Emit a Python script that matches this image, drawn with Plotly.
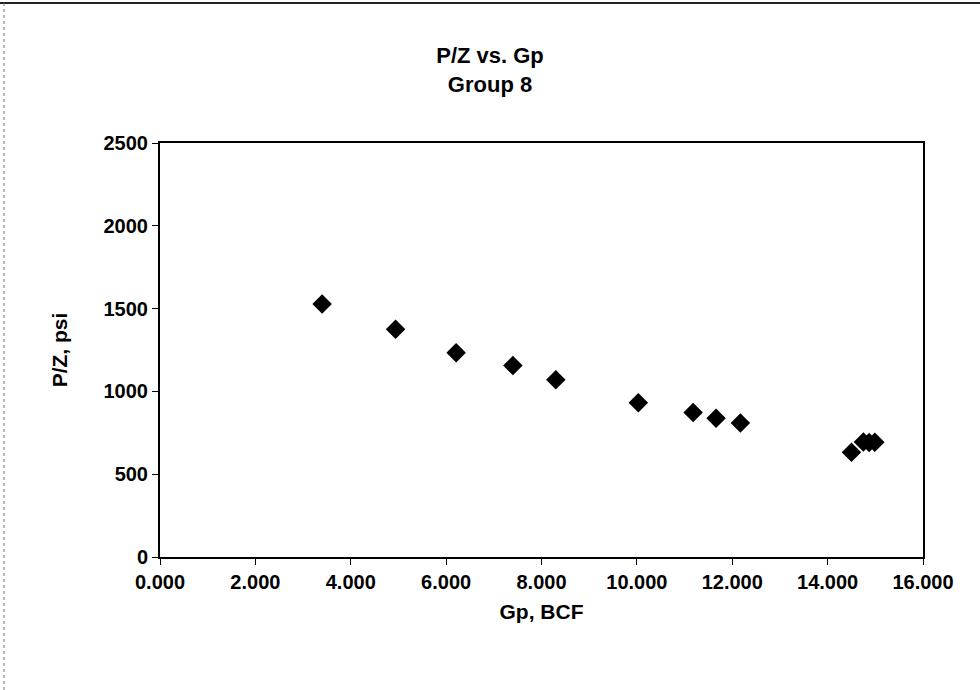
import plotly.graph_objects as go

gp_bcf = [3.40, 4.94, 6.21, 7.40, 8.30, 10.03, 11.18, 11.66, 12.17, 14.50, 14.75, 14.87, 14.99]
pz_psi = [1528, 1375, 1234, 1156, 1071, 932, 872, 838, 809, 632, 695, 692, 693]

x_ticks = [0, 2, 4, 6, 8, 10, 12, 14, 16]
y_ticks = [0, 500, 1000, 1500, 2000, 2500]

FONT = "Liberation Sans"

fig = go.Figure()
fig.add_trace(go.Scatter(
    x=gp_bcf, y=pz_psi, mode="markers",
    marker=dict(symbol="diamond", size=15, color="black", line=dict(width=0)),
    showlegend=False,
))

# plot area: x 160..923 px, y 143..557 px
def px(x):
    return (x - 160) / 763.0

def py(y):
    return (557 - y) / 414.0

fig.update_layout(
    width=980, height=690,
    margin=dict(l=160, r=57, t=143, b=133),
    paper_bgcolor="white", plot_bgcolor="white",
    title=dict(text="<b>P/Z vs. Gp<br>Group 8</b>", x=0.5, xanchor="center",
               y=1 - 63 / 690, yanchor="middle",
               font=dict(family=FONT, size=22, color="black")),
    font=dict(family=FONT, color="black"),
    xaxis=dict(
        range=[0, 16], tickvals=x_ticks, tickformat=".3f",
        ticks="outside", ticklen=6, tickwidth=1, tickcolor="black",
        showline=True, linecolor="black", linewidth=2, mirror=True,
        showgrid=False, zeroline=False,
        tickfont=dict(family=FONT, size=20, color="black", weight="bold"),
        title=dict(text="<b>Gp, BCF</b>", font=dict(family=FONT, size=21, color="black"), standoff=12),
    ),
    yaxis=dict(
        range=[0, 2500], tickvals=y_ticks,
        ticks="outside", ticklen=6, tickwidth=1, tickcolor="black",
        showline=True, linecolor="black", linewidth=2, mirror=True,
        showgrid=False, zeroline=False,
        tickfont=dict(family=FONT, size=20, color="black", weight="bold"),
        title=dict(text="<b>P/Z, psi</b>", font=dict(family=FONT, size=21, color="black"), standoff=30),
    ),
    shapes=[
        dict(type="line", xref="paper", yref="paper",
             x0=px(0), x1=px(980), y0=py(3), y1=py(3),
             line=dict(color="#222222", width=2)),
        dict(type="line", xref="paper", yref="paper",
             x0=px(4), x1=px(4), y0=py(3), y1=py(690),
             line=dict(color="#777777", width=1, dash="dot")),
    ],
)

fig.write_html("out.html", config={"displayModeBar": False},
               post_script="document.body.style.margin='0';")
